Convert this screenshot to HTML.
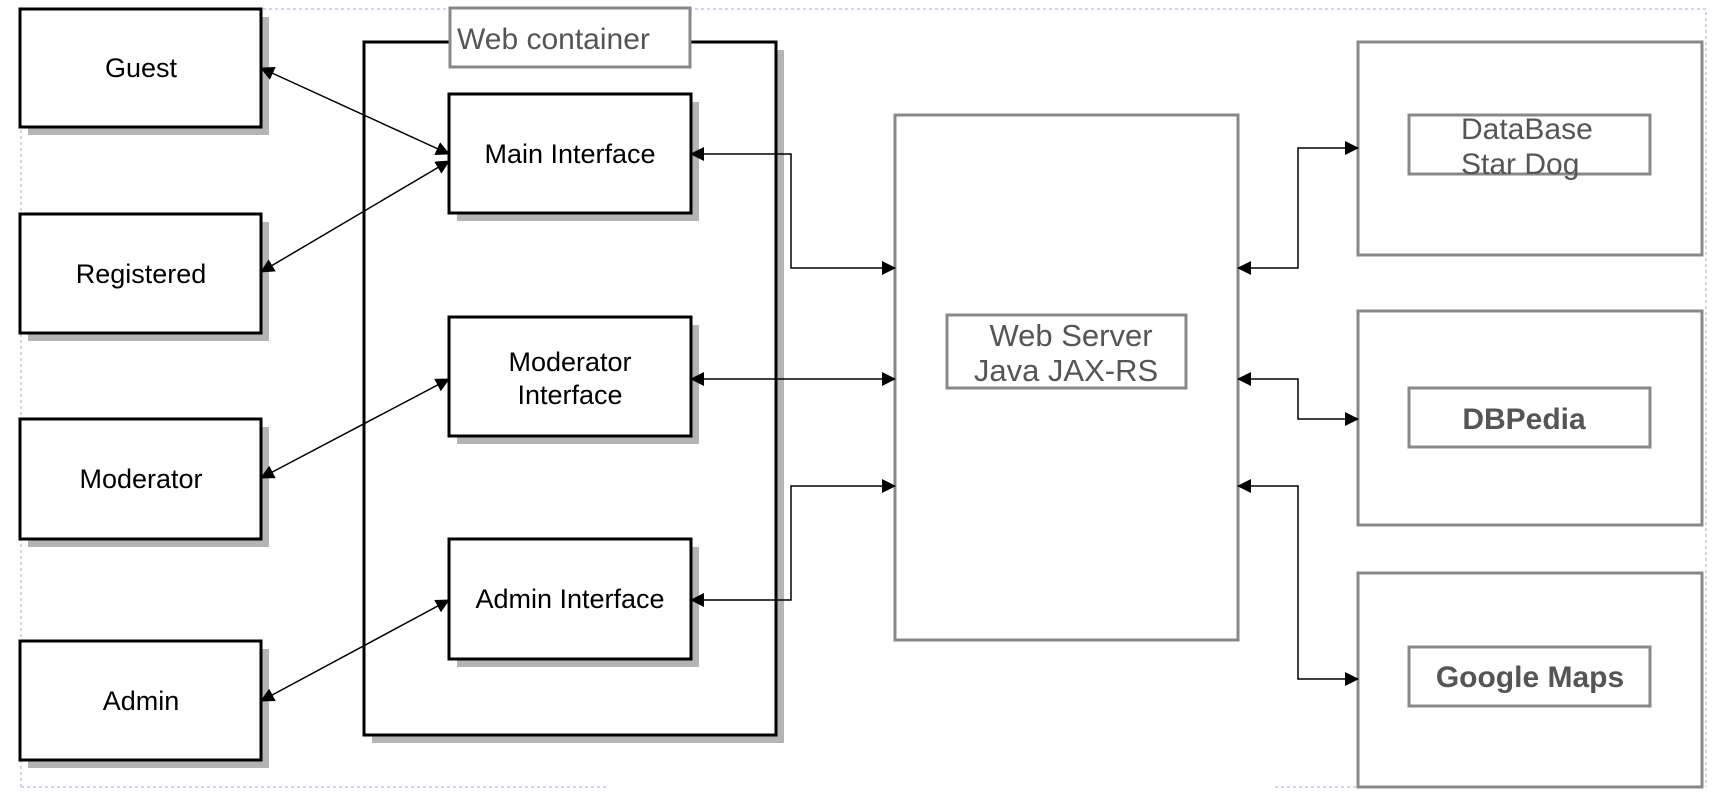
<!DOCTYPE html>
<html><head><style>
body{margin:0;background:#fff;}
svg text{font-family:"Liberation Sans",sans-serif;}
</style></head><body>
<svg width="1728" height="807" viewBox="0 0 1728 807" xmlns="http://www.w3.org/2000/svg">
<defs>
<marker id="a" markerWidth="14" markerHeight="14" refX="13" refY="7" orient="auto-start-reverse" markerUnits="userSpaceOnUse">
<path d="M0,0 L14,7 L0,14 Z" fill="#000"/></marker>
</defs>
<g fill="none" stroke="#aac" stroke-width="1" stroke-dasharray="3,3">
<path d="M21,787 V9 H1706 V787"/>
<path d="M21,787 H609"/>
<path d="M1275,787 H1358"/>
</g>
<g fill="#b4b4b4">
<rect x="28" y="17" width="241" height="118"/>
<rect x="28" y="222" width="241" height="119"/>
<rect x="28" y="427" width="241" height="120"/>
<rect x="28" y="649" width="241" height="119"/>
<rect x="372" y="50" width="412" height="693"/>
</g>
<rect x="364" y="42" width="412" height="693" fill="#fff" stroke="#000" stroke-width="3"/>
<g fill="#b4b4b4">
<rect x="457" y="102" width="242" height="119"/>
<rect x="457" y="325" width="242" height="119"/>
<rect x="457" y="547" width="242" height="120"/>
</g>
<g fill="#fff" stroke="#000" stroke-width="3">
<rect x="20" y="9" width="241" height="118"/>
<rect x="20" y="214" width="241" height="119"/>
<rect x="20" y="419" width="241" height="120"/>
<rect x="20" y="641" width="241" height="119"/>
<rect x="449" y="94" width="242" height="119"/>
<rect x="449" y="317" width="242" height="119"/>
<rect x="449" y="539" width="242" height="120"/>
</g>
<rect x="450" y="8" width="240" height="59" fill="#fff" stroke="#888" stroke-width="3"/>
<g fill="#fff" stroke="#888" stroke-width="3">
<rect x="895" y="115" width="343" height="525"/>
<rect x="947" y="315" width="239" height="73"/>
<rect x="1358" y="42" width="344" height="213"/>
<rect x="1409" y="115" width="241" height="59"/>
<rect x="1358" y="311" width="344" height="214"/>
<rect x="1409" y="388" width="241" height="59"/>
<rect x="1358" y="573" width="344" height="214"/>
<rect x="1409" y="647" width="241" height="59"/>
</g>
<g stroke="#000" stroke-width="1.5" fill="none" marker-start="url(#a)" marker-end="url(#a)">
<path d="M261,68 L449,154"/>
<path d="M261,272 L449,161"/>
<path d="M261,478 L449,379"/>
<path d="M261,701 L449,600"/>
<path d="M691,154 H791 V268 H895"/>
<path d="M691,379 H895"/>
<path d="M691,600 H791 V486 H895"/>
<path d="M1238,268 H1298 V148 H1358"/>
<path d="M1238,379 H1298 V419 H1358"/>
<path d="M1238,486 H1298 V679 H1358"/>
</g>
<g font-size="27" fill="#000" text-anchor="middle">
<text x="141" y="77">Guest</text>
<text x="141" y="283">Registered</text>
<text x="141" y="488">Moderator</text>
<text x="141" y="710">Admin</text>
<text x="570" y="163">Main Interface</text>
<text x="570" y="371">Moderator</text>
<text x="570" y="404">Interface</text>
<text x="570" y="608">Admin Interface</text>
</g>
<g fill="#555" font-size="30">
<text x="457" y="49">Web container</text>
<text x="1071" y="346" text-anchor="middle" font-size="31">Web Server</text>
<text x="1066" y="381" text-anchor="middle" font-size="31">Java JAX-RS</text>
<text x="1461" y="139">DataBase</text>
<text x="1461" y="174">Star Dog</text>
<text x="1524" y="429" text-anchor="middle" font-weight="bold">DBPedia</text>
<text x="1530" y="687" text-anchor="middle" font-weight="bold">Google Maps</text>
</g>
</svg>
</body></html>
